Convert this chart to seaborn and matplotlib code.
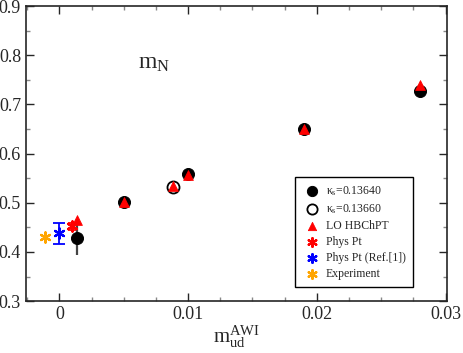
import numpy as np
import pandas as pd
import matplotlib.pyplot as plt
import seaborn as sns
from matplotlib.ticker import MultipleLocator

sns.set_style("ticks")
plt.rcParams["font.family"] = ["Liberation Serif", "DejaVu Serif"]
plt.rcParams["mathtext.fontset"] = "custom"
plt.rcParams["mathtext.rm"] = "Liberation Serif"
plt.rcParams["mathtext.it"] = "Liberation Serif"

# data
k1_x = [0.0014, 0.005, 0.010, 0.019, 0.028]
k1_y = [0.428, 0.502, 0.558, 0.649, 0.727]
k1_err = [0.034, 0.0, 0.0, 0.0, 0.0]

k2_x = [0.0088]
k2_y = [0.533]

lo_x = [0.0014, 0.005, 0.0088, 0.010, 0.019, 0.028]
lo_y = [0.465, 0.502, 0.535, 0.556, 0.650, 0.740]

phys_x = [0.001]
phys_y = [0.452]
phys_err = [0.007]

ref_x = [0.0]
ref_y = [0.438]
ref_err = [0.021]

exp_x = [-0.0011]
exp_y = [0.431]

fig = plt.figure(figsize=(4.63, 3.53), dpi=100)
ax = fig.add_axes([0.056, 0.147, 0.909, 0.836])

# error bars first
ax.errorbar(k1_x[:1], k1_y[:1], yerr=k1_err[:1], fmt="none", ecolor="#444444", elinewidth=1.6, capsize=0)
ax.errorbar(ref_x, ref_y, yerr=ref_err, fmt="none", ecolor="blue", elinewidth=1.3, capsize=4, capthick=1.3)
ax.errorbar(phys_x, phys_y, yerr=phys_err, fmt="none", ecolor="red", elinewidth=1.3, capsize=3, capthick=1.3)

sns.scatterplot(x=k1_x, y=k1_y, color="black", marker="o", s=75, edgecolor="black", ax=ax, label=r"$\kappa_s$=0.13640", zorder=3)
sns.scatterplot(x=k2_x, y=k2_y, facecolor="white", marker="o", s=75, edgecolor="black", linewidth=1.3, ax=ax, label=r"$\kappa_s$=0.13660", zorder=3)
sns.scatterplot(x=lo_x, y=lo_y, color="red", marker="^", s=50, edgecolor="red", ax=ax, label="LO HBChPT", zorder=4)
sns.scatterplot(x=phys_x, y=phys_y, color="red", marker=(6, 2, 0), s=55, linewidth=1.6, ax=ax, label="Phys Pt", zorder=4)
sns.scatterplot(x=ref_x, y=ref_y, color="blue", marker=(6, 2, 0), s=55, linewidth=1.6, ax=ax, label="Phys Pt (Ref.[1])", zorder=4)
sns.scatterplot(x=exp_x, y=exp_y, color="orange", marker=(6, 2, 0), s=55, linewidth=1.6, ax=ax, label="Experiment", zorder=4)

ax.set_xlim(-0.0026, 0.0301)
ax.set_ylim(0.3, 0.9)
ax.xaxis.set_major_locator(MultipleLocator(0.01))
ax.xaxis.set_minor_locator(MultipleLocator(0.0025))
ax.yaxis.set_major_locator(MultipleLocator(0.1))
ax.yaxis.set_minor_locator(MultipleLocator(0.05))
ax.set_xticks([0, 0.01, 0.02, 0.03])
ax.set_xticklabels(["0", "0.01", "0.02", "0.03"])
ax.tick_params(which="both", direction="in", top=True, right=True, labelsize=13)
ax.tick_params(which="major", length=6, width=1)
ax.tick_params(which="minor", length=3, width=1, color="#888888")
for s in ax.spines.values():
    s.set_linewidth(1.2)

ax.set_xlabel(r"m$_{\rm ud}^{\rm AWI}$", fontsize=15, labelpad=0)
ax.set_ylabel("")
ax.text(0.0061, 0.772, r"m$_{\rm N}$", fontsize=17)

leg = ax.legend(loc="lower right", bbox_to_anchor=(0.919, 0.047), borderaxespad=0,
                fontsize=8.5, frameon=True, fancybox=False, edgecolor="black", framealpha=1,
                handletextpad=0.4, labelspacing=0.35, borderpad=0.6, handlelength=1.6,
                markerscale=0.85)
leg.get_frame().set_linewidth(1.0)

fig.savefig("out.png", dpi=100)
